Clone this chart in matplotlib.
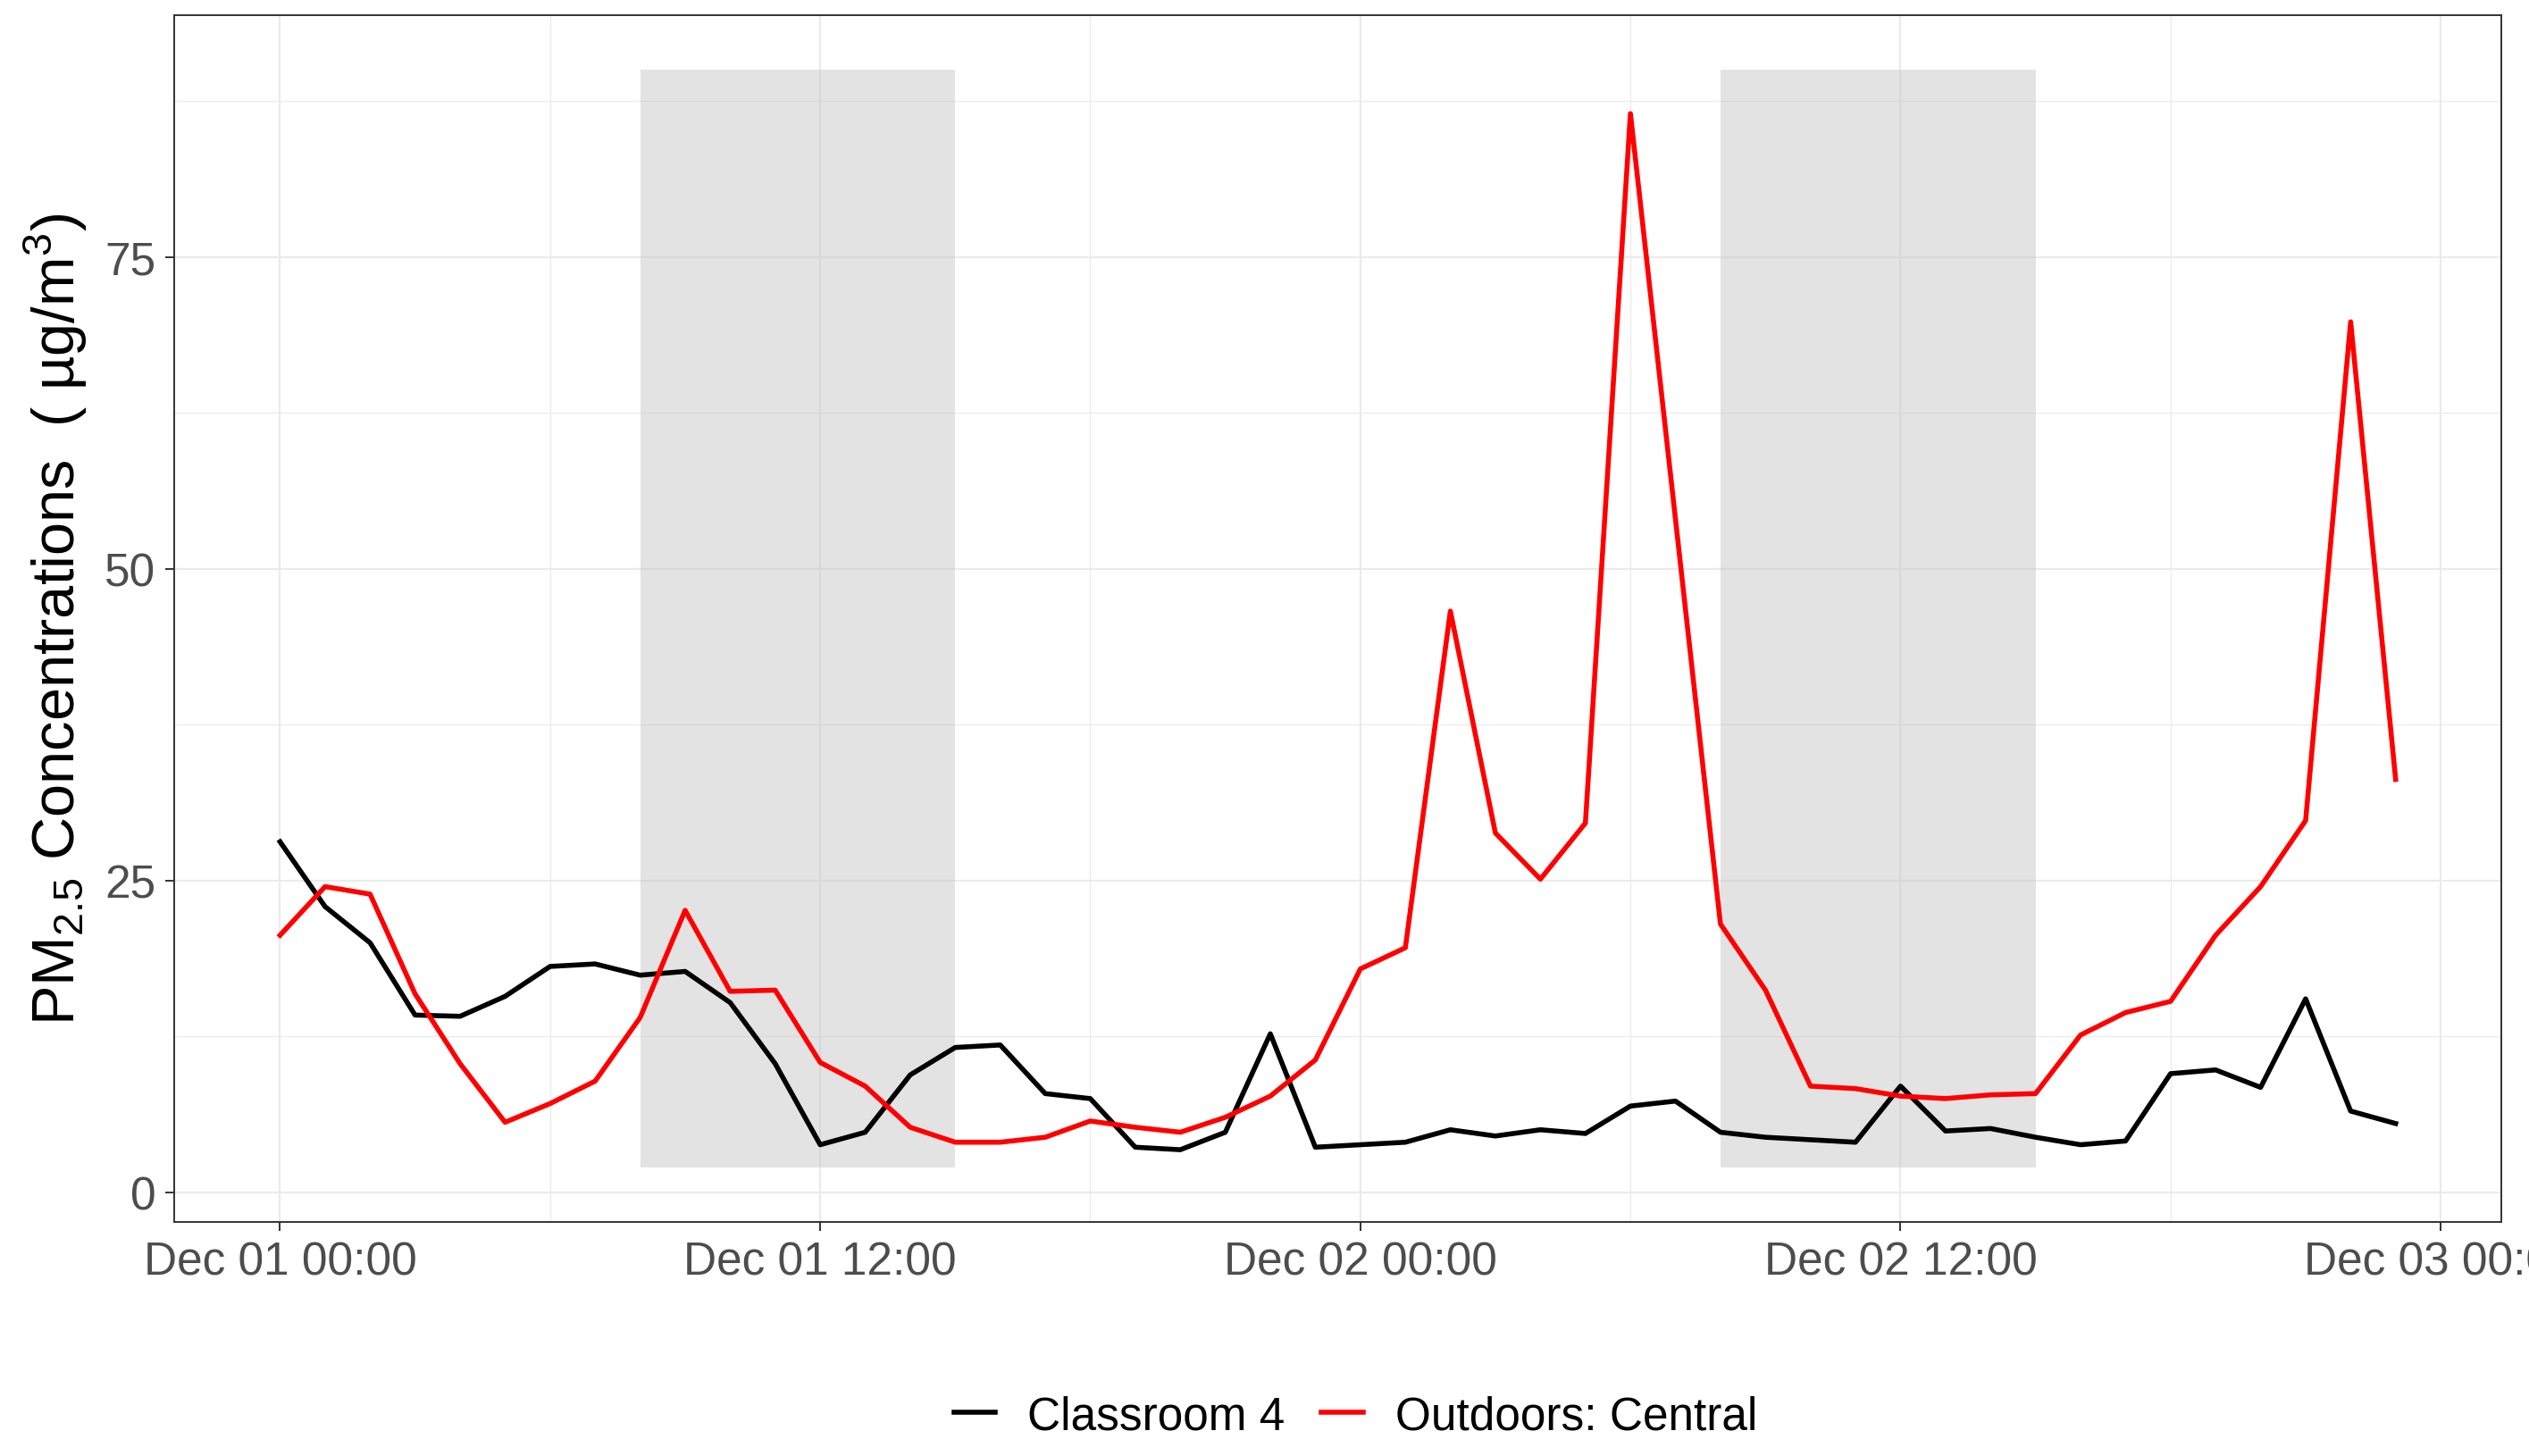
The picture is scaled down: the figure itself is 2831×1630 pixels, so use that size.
import pandas as pd
import matplotlib
matplotlib.use("Agg")
import matplotlib.pyplot as plt
import matplotlib.dates as mdates

plt.rcParams['font.family'] = ['Liberation Sans', 'DejaVu Sans']
plt.rcParams['mathtext.fontset'] = 'custom'
plt.rcParams['mathtext.rm'] = 'Liberation Sans'
plt.rcParams['mathtext.it'] = 'Liberation Sans:italic'

# hourly readings, Dec 01 00:00 .. Dec 02 23:00
times = pd.date_range("2020-12-01 00:00", periods=48, freq="h")

classroom4 = [28.1, 22.9, 20.0, 14.2, 14.1, 15.7, 18.1, 18.3, 17.4, 17.7,
              15.2, 10.3, 3.8, 4.8, 9.4, 11.6, 11.8, 7.9, 7.5, 3.6,
              3.4, 4.8, 12.7, 3.6, 3.8, 4.0, 5.0, 4.5, 5.0, 4.7,
              6.9, 7.3, 4.8, 4.4, 4.2, 4.0, 8.5, 4.9, 5.1, 4.4,
              3.8, 4.1, 9.5, 9.8, 8.4, 15.5, 6.5, 5.5]

outdoors = [20.6, 24.5, 23.9, 15.9, 10.3, 5.6, 7.1, 8.9, 14.0, 22.6,
            16.1, 16.2, 10.4, 8.5, 5.2, 4.0, 4.0, 4.4, 5.7, 5.2,
            4.8, 6.0, 7.7, 10.6, 17.9, 19.6, 46.6, 28.8, 25.1, 29.6,
            86.5, 54.0, 21.5, 16.2, 8.5, 8.3, 7.7, 7.5, 7.8, 7.9,
            12.6, 14.4, 15.3, 20.6, 24.5, 29.8, 69.8, 33.1]

# school hours shading
shade_start = ["2020-12-01 08:00", "2020-12-02 08:00"]
shade_end = ["2020-12-01 15:00", "2020-12-02 15:00"]
shade_low, shade_high = 2, 90

fig = plt.figure(figsize=(14.155, 8.155), dpi=200)
ax = fig.add_axes([0.0689, 0.1606, 0.9202, 0.8284])

for s, e in zip(shade_start, shade_end):
    ax.fill_between(pd.to_datetime([s, e]), shade_low, shade_high,
                    color="#BEBEBE", alpha=0.42, linewidth=0, zorder=1)

ax.plot(times, classroom4, color="black", lw=2.0, label="Classroom 4", zorder=3)
ax.plot(times, outdoors, color="#FF0000", lw=2.0, label="Outdoors: Central", zorder=3)

pad = pd.Timedelta(hours=2.35)
ax.set_xlim(times[0] - pad, times[-1] + pad)
ax.set_ylim(-2.4, 94.4)

ax.xaxis.set_major_locator(mdates.HourLocator(byhour=[0, 12]))
ax.xaxis.set_minor_locator(mdates.HourLocator(byhour=[6, 18]))
ax.xaxis.set_major_formatter(mdates.DateFormatter("%b %d %H:%M"))
ax.set_yticks([0, 25, 50, 75])
ax.set_yticks([12.5, 37.5, 62.5, 87.5], minor=True)

ax.set_axisbelow(True)
ax.grid(which="major", color="#EBEBEB", lw=0.8)
ax.grid(which="minor", color="#EBEBEB", lw=0.45)
ax.tick_params(which="major", length=3.5, width=0.7, color="#333333",
               labelsize=18.5, labelcolor="#4D4D4D", pad=4)
ax.tick_params(which="minor", length=0)
for sp in ax.spines.values():
    sp.set_color("#333333")
    sp.set_linewidth(0.7)

ax.set_ylabel("PM$_{2.5}$ Concentrations  ( \u00b5g/m$^{3}$)", fontsize=24, labelpad=6)

fig.legend(loc="center", bbox_to_anchor=(0.536, 0.027), ncol=2, frameon=False,
           fontsize=18.5, handlelength=0.9, handletextpad=0.7, columnspacing=0.8)

fig.savefig("out.png", dpi=200)
